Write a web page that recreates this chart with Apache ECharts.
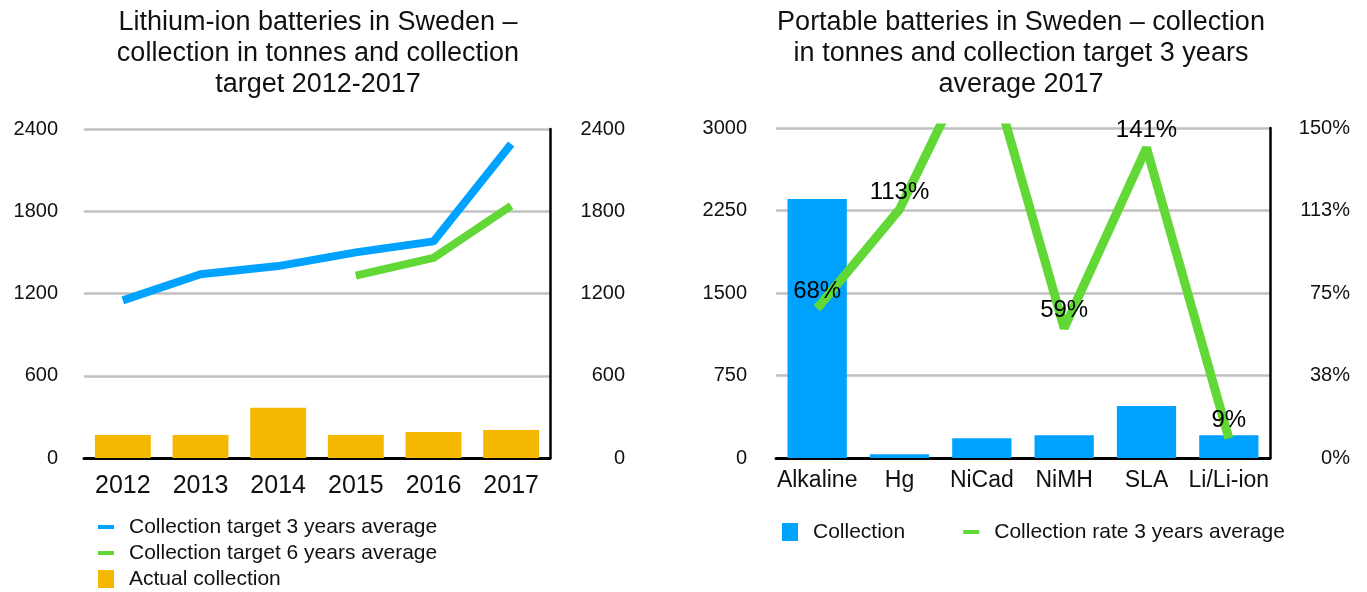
<!DOCTYPE html>
<html>
<head>
<meta charset="utf-8">
<title>Batteries in Sweden</title>
<script src="https://cdn.jsdelivr.net/npm/echarts@6/dist/echarts.min.js"></script>
<style>
  html, body { margin: 0; padding: 0; background: #fff; }
  #chart { width: 1367px; height: 592px; }
</style>
</head>
<body>
<div id="chart"></div>
<script type="text/javascript">
// left chart: lithium-ion
var years = ['2012', '2013', '2014', '2015', '2016', '2017'];
var target3y = [1150, 1340, 1400, 1500, 1580, 2290];
var target6y = [null, null, null, 1330, 1460, 1840];
var actualCollection = [167, 167, 366, 167, 189, 204];
var leftTicks = [0, 600, 1200, 1800, 2400];

// right chart: portable batteries
var types = ['Alkaline', 'Hg', 'NiCad', 'NiMH', 'SLA', 'Li/Li-ion'];
var collection = [2355, 33, 180, 207, 472, 207];
var collectionRate = [68, 113, 190, 59, 141, 9];
var rightTicks = [0, 750, 1500, 2250, 3000];
var rateTicks = [0, 37.5, 75, 112.5, 150];

var FONT = '"Liberation Sans", Helvetica, Arial, sans-serif';
var BLUE = '#00a2ff';
var GREEN = '#61d836';
var ORANGE = '#f5b800';
var GRID_GREY = '#c0c0c0';
// short thick dash for the line series in the legends
var LINE_ICON = 'path://M0,0 L16,0 L16,4 L0,4 Z';

var chart = echarts.init(document.getElementById('chart'));

var plain = function (v) { return String(v); };

var valueAxis = function (gridIndex, ticks, pos, margin, fmt, showLine) {
    return {
        type: 'value',
        gridIndex: gridIndex,
        position: pos,
        min: ticks[0],
        max: ticks[ticks.length - 1],
        interval: ticks[1] - ticks[0],
        axisLine: { show: showLine, lineStyle: { color: '#000', width: 2.5 } },
        axisTick: { show: false },
        splitLine: { show: pos === 'left', lineStyle: { color: GRID_GREY, width: 2.5 } },
        axisLabel: {
            color: '#111', fontFamily: FONT, fontSize: 20,
            margin: margin, align: 'right',
            formatter: fmt || plain
        }
    };
};

var catAxis = function (gridIndex, data, size, margin) {
    return {
        type: 'category',
        gridIndex: gridIndex,
        data: data,
        axisLine: { lineStyle: { color: '#000', width: 3 } },
        axisTick: { show: false },
        axisLabel: { color: '#111', fontFamily: FONT, fontSize: size, margin: margin, interval: 0 }
    };
};

var legendText = { fontFamily: FONT, fontSize: 21, color: '#111', lineHeight: 26, padding: [0, 0, 0, 10] };

var option = {
    animation: false,
    textStyle: { fontFamily: FONT },
    title: [{
        text: 'Lithium-ion batteries in Sweden –\ncollection in tonnes and collection\ntarget 2012-2017',
        left: 313, top: 2, textAlign: 'center',
        textStyle: { fontFamily: FONT, fontSize: 27, fontWeight: 'normal', color: '#111', lineHeight: 31 }
    }, {
        text: 'Portable batteries in Sweden – collection\nin tonnes and collection target 3 years\naverage 2017',
        left: 1016, top: 2, textAlign: 'center',
        textStyle: { fontFamily: FONT, fontSize: 27, fontWeight: 'normal', color: '#111', lineHeight: 31 }
    }],
    legend: [{
        orient: 'vertical',
        left: 98, top: 514, height: 90, padding: 0,
        itemWidth: 16, itemHeight: 18, itemGap: 0,
        textStyle: legendText,
        data: [
            { name: 'Collection target 3 years average', icon: LINE_ICON },
            { name: 'Collection target 6 years average', icon: LINE_ICON },
            { name: 'Actual collection', icon: 'rect' }
        ]
    }, {
        orient: 'horizontal',
        left: 782, top: 519, padding: 0,
        itemWidth: 16, itemHeight: 18, itemGap: 58,
        textStyle: legendText,
        data: [
            { name: 'Collection', icon: 'rect' },
            { name: 'Collection rate 3 years average', icon: LINE_ICON }
        ]
    }],
    grid: [
        { left: 84, right: 817, top: 129, bottom: 134 },
        { left: 776, right: 97, top: 128, bottom: 134 }
    ],
    xAxis: [
        catAxis(0, years, 25, 16),
        catAxis(1, types, 23, 11)
    ],
    yAxis: [
        valueAxis(0, leftTicks, 'left', 26, null, false),
        valueAxis(0, leftTicks, 'right', 75, null, true),
        valueAxis(1, rightTicks, 'left', 29, null, false),
        valueAxis(1, rateTicks, 'right', 80, function (v) { return Math.round(v) + '%'; }, true)
    ],
    series: [{
        name: 'Actual collection',
        type: 'bar',
        xAxisIndex: 0, yAxisIndex: 0,
        barWidth: '72%',
        itemStyle: { color: ORANGE },
        data: actualCollection
    }, {
        name: 'Collection target 3 years average',
        type: 'line',
        xAxisIndex: 0, yAxisIndex: 0,
        symbol: 'none',
        lineStyle: { color: BLUE, width: 8 },
        itemStyle: { color: BLUE },
        data: target3y
    }, {
        name: 'Collection target 6 years average',
        type: 'line',
        xAxisIndex: 0, yAxisIndex: 0,
        symbol: 'none',
        lineStyle: { color: GREEN, width: 8 },
        itemStyle: { color: GREEN },
        data: target6y
    }, {
        name: 'Collection',
        type: 'bar',
        xAxisIndex: 1, yAxisIndex: 2,
        barWidth: '72%',
        itemStyle: { color: BLUE },
        data: collection
    }, {
        name: 'Collection rate 3 years average',
        type: 'line',
        xAxisIndex: 1, yAxisIndex: 3,
        symbol: 'circle', symbolSize: 1, showSymbol: true,
        clip: true,
        lineStyle: { color: GREEN, width: 9 },
        itemStyle: { color: GREEN },
        label: {
            show: true, position: 'top', distance: 5,
            color: '#000', fontFamily: FONT, fontSize: 24,
            formatter: '{c}%'
        },
        data: collectionRate.map(function (v) {
            // NiCad goes above the axis max and is cut off, so no label
            return v > 150 ? { value: v, label: { show: false } } : v;
        })
    }]
};

chart.setOption(option);
</script>
</body>
</html>
